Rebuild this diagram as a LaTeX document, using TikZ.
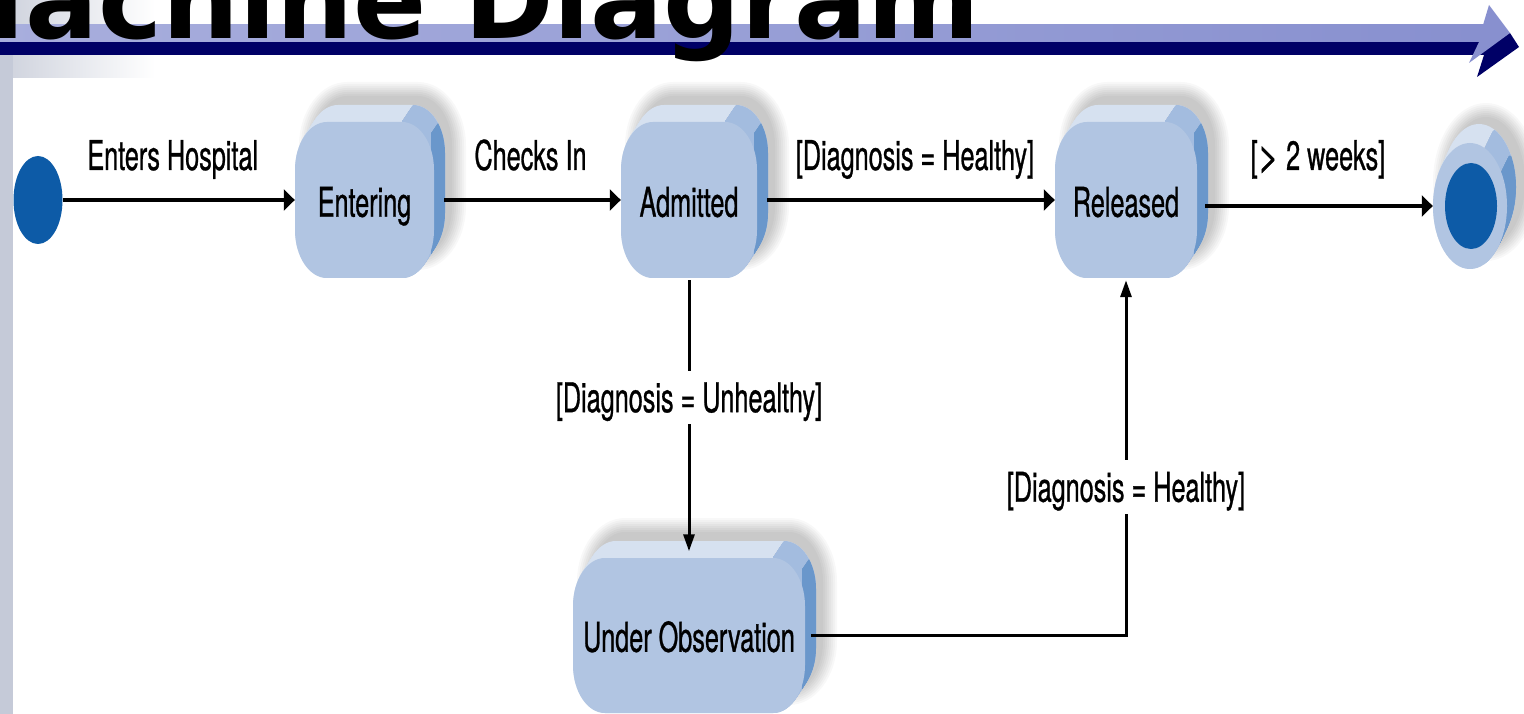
\documentclass[tikz,border=0pt]{standalone}
\usepackage{fontspec}
\setmainfont{TeX Gyre Heros}
\newfontfamily\lblfont[FakeStretch=0.615,FakeBold=0.7]{TeX Gyre Heros}
\newfontfamily\titlefont{DejaVu Sans}
\usetikzlibrary{arrows.meta,shapes.geometric}

\definecolor{face}{HTML}{B1C5E2}
\definecolor{topface}{HTML}{D6E1F0}
\definecolor{cornerface}{HTML}{A3BCDF}
\definecolor{sideface}{HTML}{6A97CB}
\definecolor{dotblue}{HTML}{0D5BA7}
\definecolor{barlight}{HTML}{8890CF}
\definecolor{barlightL}{HTML}{A8AEDD}
\definecolor{bardark}{HTML}{000066}
\definecolor{stripgray}{HTML}{C5CAD8}
\definecolor{gradgray}{HTML}{CDD1DC}

\newcommand\lbl{\lblfont\fontsize{41pt}{41pt}\selectfont}

% rounded rectangle with elliptic corners: x1 y1 x2 y2 (y grows downward), radii a b
\newcommand\rrect[6]{({(#1)+(#5)},{#2}) -- ({(#3)-(#5)},{#2})
  arc[start angle=-90,end angle=0,x radius={#5},y radius={#6}] -- ({#3},{(#4)-(#6)})
  arc[start angle=0,end angle=90,x radius={#5},y radius={#6}] -- ({(#1)+(#5)},{#4})
  arc[start angle=90,end angle=180,x radius={#5},y radius={#6}] -- ({#1},{(#2)+(#6)})
  arc[start angle=180,end angle=270,x radius={#5},y radius={#6}] -- cycle}

% extruded state box with a soft shadow; front face x1 y1 x2 y2
\newcommand\solidbox[4]{%
  \foreach \e in {16,14,...,2}{%
    \fill[black,opacity=0.028] \rrect{#1+20-\e}{#2-24-\e}{#3+16+\e}{#4-24+\e}{32+\e}{48+\e};
  }%
  \foreach \k in {0,...,20}{%
    \fill[topface] \rrect{#1+0.55*\k}{#2-0.85*\k}{#3+0.55*\k}{#4-0.85*\k}{32}{48};
  }%
  \begin{scope}
    \clip ({#3-32},{#2}) -- ({#3-21},{#2-17}) -- ({#3+40},{#2-17}) -- ({#3+40},{#4+5}) -- ({#3-32},{#4+5}) -- cycle;
    \foreach \k in {0,...,20}{%
      \fill[cornerface] \rrect{#1+0.55*\k}{#2-0.85*\k}{#3+0.55*\k}{#4-0.85*\k}{32}{48};
    }%
  \end{scope}
  \begin{scope}
    \clip ({#3-3},{#2+12}) -- ({#3+8},{#2-5}) -- ({#3+40},{#2-5}) -- ({#3+40},{#4+5}) -- ({#3-3},{#4+5}) -- cycle;
    \foreach \k in {0,...,20}{%
      \fill[sideface] \rrect{#1+0.55*\k}{#2-0.85*\k}{#3+0.55*\k}{#4-0.85*\k}{32}{48};
    }%
  \end{scope}
  \fill[face] \rrect{#1}{#2}{#3}{#4}{32}{48};
}

\begin{document}
\begin{tikzpicture}[x=1pt,y=-1pt,
  boxtext/.style={rectangle,inner sep=0pt,font=\lbl,text height=29.5pt,text depth=0pt},
  lab/.style={anchor=base,inner sep=0pt,font=\lbl},
  vlab/.style={fill=white,font=\lbl,text height=29.5pt,text depth=0pt,inner xsep=3pt,inner ysep=12pt},
  harr/.style={line width=4.3pt,-{Triangle[length=11pt,width=21pt]}},
  varr/.style={line width=3pt,-{Triangle[length=17pt,width=11pt]}}]
\useasboundingbox (0,0) rectangle (1524,714);
\clip (0,0) rectangle (1524,714);
\fill[white] (0,0) rectangle (1524,714);

% slide background at the left
\shade[left color=gradgray,right color=white] (0,0) rectangle (155,78);
\fill[stripgray] (0,55) rectangle (13,714);

% title bar with its arrow
\shade[left color=barlightL,right color=barlight] (0,25) rectangle (1484,42);
\fill[bardark] (0,42) rectangle (1484,55);
\fill[bardark] (1484,42) -- (1510,33) -- (1519,47) -- (1477,77) -- (1484,55) -- cycle;
\fill[barlight] (1483,25) -- (1489,5) -- (1510,33) -- (1469,63) -- (1479,42) -- cycle;
\node[anchor=base west,inner sep=0pt,font=\titlefont\bfseries\fontsize{108pt}{108pt}\selectfont] (title) at (-82,39) {Machine Diagram};

% state boxes
\solidbox{295}{122}{434}{278}
\solidbox{621}{122}{757}{278}
\solidbox{1055}{122}{1197}{278}
\solidbox{573}{558}{805}{713}

% final state
\foreach \e in {16,14,...,2}{%
  \fill[black,opacity=0.028] (1486,182) ellipse[x radius={37+\e},y radius={63+\e}];
}
\foreach \k in {0,...,20}{%
  \fill[topface] (1470+0.45*\k,206-0.95*\k) ellipse[x radius=37,y radius=63];
}
\begin{scope}
  \clip (1484,150) -- (1493,131) -- (1540,100) -- (1540,300) -- (1484,300) -- cycle;
  \foreach \k in {0,...,20}{%
    \fill[cornerface] (1470+0.45*\k,206-0.95*\k) ellipse[x radius=37,y radius=63];
  }
\end{scope}
\begin{scope}
  \clip (1500,175) -- (1509,156) -- (1540,156) -- (1540,300) -- (1500,300) -- cycle;
  \foreach \k in {0,...,20}{%
    \fill[sideface] (1470+0.45*\k,206-0.95*\k) ellipse[x radius=37,y radius=63];
  }
\end{scope}
\node[ellipse,fill=face,minimum width=74pt,minimum height=126pt,inner sep=0pt] (fin) at (1470,206) {};
\node[ellipse,fill=dotblue,minimum width=52pt,minimum height=86pt,inner sep=0pt] (fincore) at (1471,206) {};

% initial state
\node[ellipse,fill=dotblue,minimum width=49pt,minimum height=88pt,inner sep=0pt] (init) at (38,200) {};

% state names
\node[boxtext,minimum width=139pt,minimum height=156pt] (enter) at (364.5,202) {Entering};
\node[boxtext,minimum width=136pt,minimum height=156pt] (adm) at (689,202) {Admitted};
\node[boxtext,minimum width=142pt,minimum height=156pt] (rel) at (1126,202) {Released};
\node[boxtext,minimum width=232pt,minimum height=155pt] (obs) at (689,637) {Under Observation};

% transitions
\draw[harr] (init) -- (enter.west |- init) node[lab,midway,yshift=30pt,xshift=-6pt] {Enters Hospital};
\draw[harr,shorten <=10pt] (enter.east |- init) -- (adm.west |- init) node[lab,midway,yshift=30pt,xshift=3pt] {Checks In};
\draw[harr,shorten <=10pt] (adm.east |- init) -- (rel.west |- init) node[lab,midway,yshift=30pt,xshift=9pt] {[Diagnosis = Healthy]};
\draw[harr,shorten <=8pt] (rel.east |- fin.west) -- (fin.west) node[lab,midway,yshift=36pt,xshift=3pt] {[\scalebox{1.45}[1]{>} 2 weeks]};
\draw[varr,shorten >=8pt] (adm.south) -- (obs.north) node[vlab,pos=0.42] {[Diagnosis = Unhealthy]};
\draw[varr,shorten <=6pt] ([yshift=1.5pt]obs.east) -| (rel.south) node[vlab,pos=0.709] {[Diagnosis = Healthy]};
\end{tikzpicture}
\end{document}
